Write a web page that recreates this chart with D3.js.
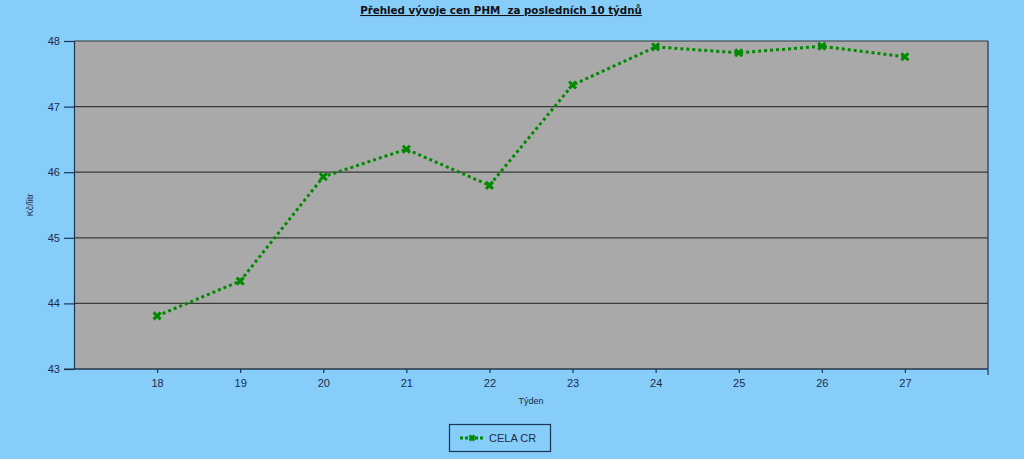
<!DOCTYPE html>
<html><head><meta charset="utf-8">
<script src="https://cdn.jsdelivr.net/npm/d3@7"></script>
<style>html,body{margin:0;padding:0;background:#87cdfa;}svg{display:block;}</style>
</head><body>
<svg id="c" width="1024" height="459"></svg>
<script>
const weeks = [18, 19, 20, 21, 22, 23, 24, 25, 26, 27];
const celaCR = [43.81, 44.34, 45.93, 46.35, 45.80, 47.33, 47.91, 47.82, 47.92, 47.76];
const yTicks = [43, 44, 45, 46, 47, 48];
const title = "Přehled vývoje cen PHM  za posledních 10 týdnů";
const yLabel = "Kč/litr";
const xLabel = "Týden";
const seriesName = "CELA CR";

const svg = d3.select("#c");
const L = 74, R = 988, T = 41, B = 369;
const x = d3.scaleLinear().domain([17, 28]).range([L, R]);
const y = d3.scaleLinear().domain([43, 48]).range([B, T]);
const axisCol = "#1c3553", txtCol = "#1c2c48", green = "#008a00";

svg.append("rect").attr("x", L).attr("y", T).attr("width", R - L).attr("height", B - T).attr("fill", "#a9a9a9");

// gridlines
svg.append("g").selectAll("line").data(yTicks).join("line")
  .attr("x1", L).attr("x2", R).attr("y1", d => y(d)).attr("y2", d => y(d))
  .attr("stroke", "#3a3a3a").attr("stroke-width", 1.2);
svg.append("line").attr("x1", R).attr("x2", R).attr("y1", T).attr("y2", B + 6).attr("stroke", axisCol).attr("stroke-width", 1.2);

// y axis
const ya = svg.append("g").attr("transform", `translate(${L},0)`)
  .call(d3.axisLeft(y).tickValues(yTicks).tickSize(10).tickPadding(4).tickFormat(d3.format("d")));
ya.select(".domain").attr("stroke", axisCol).attr("stroke-width", 1.2);
ya.selectAll(".tick line").attr("stroke", axisCol).attr("stroke-width", 1.2);
ya.selectAll("text").attr("fill", txtCol).style("font", "11px 'Liberation Sans', Arial, sans-serif");

// x axis
const xa = svg.append("g").attr("transform", `translate(0,${B})`)
  .call(d3.axisBottom(x).tickValues(weeks).tickSize(4).tickPadding(6).tickSizeOuter(0).tickFormat(d3.format("d")));
xa.select(".domain").attr("stroke", axisCol).attr("stroke-width", 1.2)
  .attr("d", `M${L - 10},0H${R}`);
xa.selectAll(".tick line").attr("stroke", axisCol).attr("stroke-width", 1.2);
xa.selectAll("text").attr("fill", txtCol).style("font", "11px 'Liberation Sans', Arial, sans-serif");

// title
svg.append("text").attr("x", 501).attr("y", 14).attr("text-anchor", "middle")
  .attr("fill", "#111").style("font", "bold 10.3px 'DejaVu Sans', Verdana, sans-serif")
  .style("white-space", "pre").attr("xml:space", "preserve")
  .attr("text-decoration", "underline").text(title);

// axis labels
svg.append("text").attr("transform", "translate(33,205) rotate(-90)").attr("text-anchor", "middle")
  .attr("fill", txtCol).style("font", "9px 'Liberation Sans', Arial, sans-serif").text(yLabel);
svg.append("text").attr("x", 531).attr("y", 404).attr("text-anchor", "middle")
  .attr("fill", txtCol).style("font", "9px 'Liberation Sans', Arial, sans-serif").text(xLabel);

// line
const data = weeks.map((w, i) => ({w, v: celaCR[i]}));
svg.append("path").datum(data)
  .attr("d", d3.line().x(d => x(d.w)).y(d => y(d.v)))
  .attr("fill", "none").attr("stroke", green).attr("stroke-width", 3).attr("stroke-dasharray", "3,3");

function cross(g, cx, cy, s) {
  g.append("path").attr("d", `M${cx - s},${cy - s}L${cx + s},${cy + s}M${cx - s},${cy + s}L${cx + s},${cy - s}`)
    .attr("stroke", green).attr("stroke-width", 3);
}
const mk = svg.append("g");
data.forEach(d => cross(mk, x(d.w), y(d.v), 3.5));

// legend
const lg = svg.append("g");
lg.append("rect").attr("x", 449.5).attr("y", 424.5).attr("width", 101).attr("height", 27)
  .attr("fill", "none").attr("stroke", axisCol).attr("stroke-width", 1.2);
lg.append("line").attr("x1", 460).attr("x2", 484).attr("y1", 438).attr("y2", 438)
  .attr("stroke", green).attr("stroke-width", 3).attr("stroke-dasharray", "3,2");
cross(lg, 472, 438, 2.5);
lg.append("text").attr("x", 489).attr("y", 442).attr("fill", txtCol)
  .style("font", "11px 'Liberation Sans', Arial, sans-serif").text(seriesName);
</script>
</body></html>
